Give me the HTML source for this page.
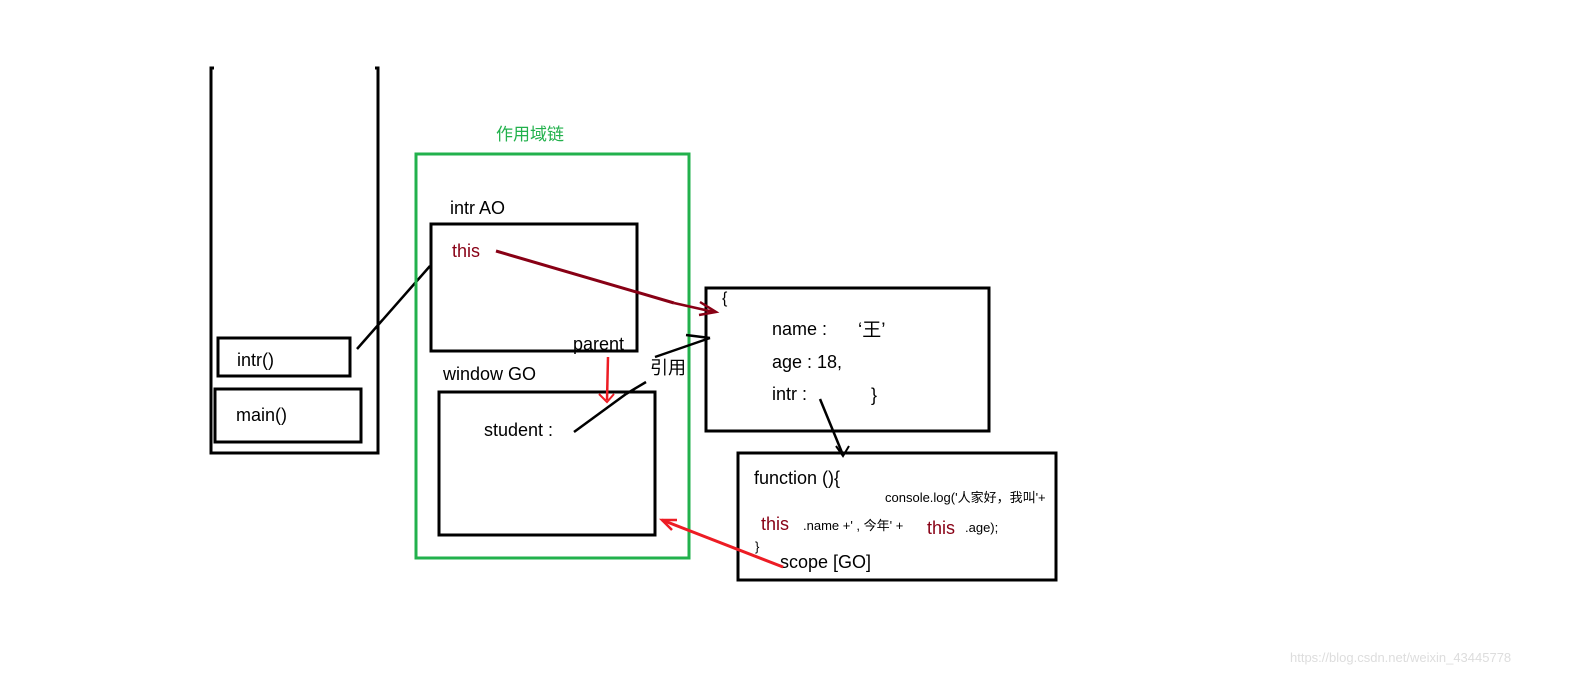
<!DOCTYPE html>
<html><head><meta charset="utf-8"><style>
html,body{margin:0;padding:0;background:#fff;}
svg{display:block;}
text{font-family:"Liberation Sans","Noto Sans CJK SC",sans-serif;}
</style></head><body>
<svg width="1585" height="679" viewBox="0 0 1585 679" xmlns="http://www.w3.org/2000/svg">
<rect width="1585" height="679" fill="#fff"/>
<!-- stack -->
<polyline points="214,68 211,68 211,453 378,453 378,68 375,68" fill="none" stroke="#000" stroke-width="3"/>
<rect x="218" y="338" width="132" height="38" fill="none" stroke="#000" stroke-width="3"/>
<text x="237" y="366" font-size="18">intr()</text>
<rect x="215" y="389" width="146" height="53" fill="none" stroke="#000" stroke-width="3"/>
<text x="236" y="421" font-size="18">main()</text>
<line x1="357" y1="349" x2="430" y2="266" stroke="#000" stroke-width="2.5"/>
<!-- green scope chain -->
<text x="496" y="140" font-size="17" fill="#22b14c">作用域链</text>
<rect x="416" y="154" width="273" height="404" fill="none" stroke="#22b14c" stroke-width="3"/>
<text x="450" y="214" font-size="18">intr AO</text>
<rect x="431" y="224" width="206" height="127" fill="none" stroke="#000" stroke-width="3"/>
<text x="452" y="257" font-size="18" fill="#880015">this</text>
<text x="443" y="380" font-size="18">window GO</text>
<rect x="439" y="392" width="216" height="143" fill="none" stroke="#000" stroke-width="3"/>
<text x="484" y="436" font-size="18">student :</text>
<text x="573" y="350" font-size="18">parent</text>
<text x="650" y="374" font-size="18">引用</text>
<!-- object box -->
<rect x="706" y="288" width="283" height="143" fill="none" stroke="#000" stroke-width="3"/>
<text x="722" y="303" font-size="16">{</text>
<text x="772" y="335" font-size="18">name :</text>
<text x="858" y="336" font-size="19">‘王’</text>
<text x="772" y="368" font-size="18">age : 18,</text>
<text x="772" y="400" font-size="18">intr :</text>
<text x="871" y="401" font-size="18">}</text>
<!-- function box -->
<rect x="738" y="453" width="318" height="127" fill="none" stroke="#000" stroke-width="3"/>
<text x="754" y="484" font-size="18">function (){</text>
<text x="885" y="502" font-size="13">console.log('人家好，我叫'+</text>
<text x="761" y="530" font-size="18" fill="#880015">this</text>
<text x="803" y="530" font-size="13">.name +' , 今年' +</text>
<text x="927" y="534" font-size="18" fill="#880015">this</text>
<text x="965" y="532" font-size="13">.age);</text>
<text x="755" y="551" font-size="13">}</text>
<text x="780" y="568" font-size="18">scope [GO]</text>
<!-- arrows -->
<line x1="496" y1="251" x2="674" y2="303" stroke="#880015" stroke-width="3"/>
<line x1="674" y1="303" x2="714" y2="312" stroke="#880015" stroke-width="2.5"/>
<polyline points="700,302 716,312 699,315" fill="none" stroke="#880015" stroke-width="2.5"/>
<line x1="608" y1="357" x2="607" y2="400" stroke="#ed1c24" stroke-width="2.5"/>
<polyline points="599,394 607,402 614,394" fill="none" stroke="#ed1c24" stroke-width="2"/>
<line x1="574" y1="432" x2="626" y2="394" stroke="#000" stroke-width="2.5"/>
<line x1="626" y1="394" x2="646" y2="382" stroke="#000" stroke-width="2.5"/>
<line x1="655" y1="357" x2="710" y2="338" stroke="#000" stroke-width="2.5"/>
<line x1="686" y1="335" x2="710" y2="338" stroke="#000" stroke-width="2.5"/>
<line x1="820" y1="399" x2="843" y2="455" stroke="#000" stroke-width="2.5"/>
<polyline points="836,446 843,456 849,446" fill="none" stroke="#000" stroke-width="2"/>
<line x1="783" y1="567" x2="662" y2="520" stroke="#ed1c24" stroke-width="3"/>
<polyline points="677,520 662,520 672,530" fill="none" stroke="#ed1c24" stroke-width="2.5"/>
<text x="1290" y="662" font-size="13" fill="#ddd">https://blog.csdn.net/weixin_43445778</text>
</svg>
</body></html>
